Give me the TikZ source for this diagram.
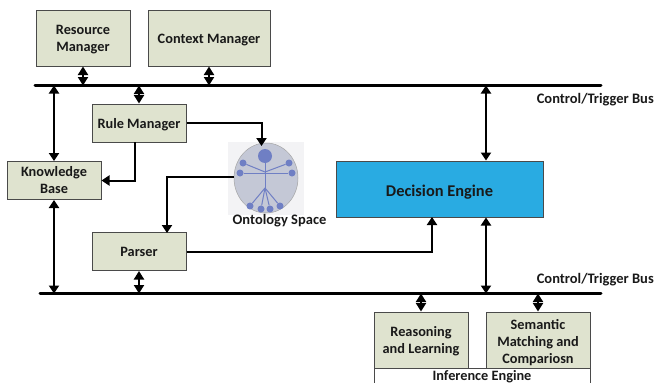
\documentclass[tikz,border=0pt]{standalone}
\usepackage{fontspec}
\setmainfont{Carlito}
\usetikzlibrary{arrows.meta,calc,shapes.geometric}
\definecolor{boxfill}{HTML}{DFE3CF}
\definecolor{boxedge}{HTML}{4A4A4A}
\definecolor{decfill}{HTML}{29ABE2}
\definecolor{ontfill}{HTML}{C4C8D6}
\definecolor{ontblue}{HTML}{6F7FC4}
\definecolor{ontbg}{HTML}{F3F3F5}
\newcommand{\lowr}[1]{\rule{0pt}{#1pt}}
\tikzset{
  every node/.style={font=\bfseries\fontsize{14.3}{17}\selectfont,text=black!90,align=center,inner sep=0pt},
  mgr/.style={draw=boxedge,line width=1pt,fill=boxfill},
  bus/.style={line width=3pt,line cap=round},
  link/.style={line width=2pt,-{Triangle[length=8pt,width=10pt]}},
  dlink/.style={line width=2pt,{Triangle[length=8pt,width=10pt]}-{Triangle[length=8pt,width=10pt]}},
  sdlink/.style={line width=2pt,{Triangle[length=8.5pt,width=10pt]}-{Triangle[length=8.5pt,width=10pt]}},
  limb/.style={draw=ontblue,line width=1pt},
  joint/.style={circle,fill=ontblue,minimum size=7pt},
  lbl/.style={font=\bfseries\fontsize{14.5}{17}\selectfont}
}
\begin{document}
\begin{tikzpicture}[x=1pt,y=-1pt]
\useasboundingbox (0,0) rectangle (654,383);
% bus coordinates
\coordinate (b1l) at (35,85.5);
\coordinate (b1r) at (601,85.5);
\coordinate (b2l) at (40,293.5);
\coordinate (b2r) at (601,293.5);
% boxes
\node[mgr,minimum width=94pt,minimum height=56pt] (res) at (83,38) {\lowr{13}Resource\\Manager};
\node[mgr,minimum width=122pt,minimum height=56pt] (ctx) at (209,38) {\lowr{13}Context Manager};
\node[mgr,minimum width=94pt,minimum height=38pt] (rule) at (139,123) {\lowr{13}Rule Manager};
\node[mgr,minimum width=94pt,minimum height=38pt] (kb) at (54,180.5) {Knowledge\\Base};
\node[mgr,minimum width=94pt,minimum height=38pt] (parser) at (139,251.5) {Parser};
\node[draw=boxedge,line width=1pt,fill=decfill,minimum width=207pt,minimum height=56pt,font=\bfseries\fontsize{16.4}{19}\selectfont] (dec) at (439.5,189) {\lowr{17}Decision Engine};
\node[mgr,minimum width=94pt,minimum height=56pt] (reas) at (421,340) {\lowr{13}Reasoning\\and Learning};
\node[mgr,minimum width=104pt,minimum height=56pt] (sem) at (538,340) {\lowr{16}Semantic\\Matching and\\Compariosn};
\node[draw=boxedge,line width=1pt,fill=white,minimum width=216pt,minimum height=20pt,anchor=north] (inf) at (482,368) {\raisebox{7pt}{Inference Engine}};
% ontology
\fill[ontbg] (228,142) rectangle (304,215);
\node[draw=boxedge!50,line width=0.5pt,fill=ontfill,ellipse,minimum width=64pt,minimum height=70pt] (ont) at (266,178) {};
\node[joint,minimum size=14pt] (head) at (265,156) {};
\node[joint] (h1) at (243,163) {};
\node[joint] (h2) at (240,173) {};
\node[joint] (h3) at (289,163) {};
\node[joint] (h4) at (292,173) {};
\node[joint] (f1) at (250,206) {};
\node[joint] (f2) at (261,209) {};
\node[joint] (f3) at (270,209) {};
\node[joint] (f4) at (280,206) {};
\coordinate (neck) at (265,172);
\coordinate (hip) at (265,188);
\draw[limb] (head) -- (hip);
\draw[limb] (h1) -- (neck) -- (h3);
\draw[limb] (h2) -- (h4);
\foreach \f in {f1,f2,f3,f4} \draw[limb] (hip) -- (\f);
\node[lbl] (ontl) at (279.5,221) {Ontology Space};
% buses
\draw[bus] (b1l) -- (b1r);
\draw[bus] (b2l) -- (b2r);
\node[lbl,anchor=east] (t1) at (654,100) {Control/Trigger Bus};
\node[lbl,anchor=east] (t2) at (654,280) {Control/Trigger Bus};
% connectors
\coordinate (a1) at (83,85.5); \draw[sdlink] (res.south) -- (a1);
\coordinate (a2) at (209,85.5); \draw[sdlink] (ctx.south) -- (a2);
\coordinate (a3) at (139,85.5); \draw[sdlink] (a3) -- (rule.north);
\coordinate (a4) at (54,85.5); \draw[dlink] (a4) -- (kb.north);
\coordinate (a5) at (54,293.5); \draw[dlink] (kb.south) -- (a5);
\coordinate (a6) at (139,293.5); \draw[sdlink] (parser.south) -- (a6);
\coordinate (a7) at (486,85.5); \draw[dlink] (a7) -- (dec.north -| a7);
\coordinate (a8) at (486,293.5); \draw[dlink] (dec.south -| a8) -- (a8);
\coordinate (a9) at (421,293.5); \draw[sdlink] (a9) -- (reas.north);
\coordinate (a10) at (538,293.5); \draw[sdlink] (a10) -- (sem.north);
\coordinate (o1) at (261.5,146);
\draw[link] (rule.east) -| (o1);
\coordinate (k1) at (135,142);
\draw[link] (k1) |- (kb.east);
\coordinate (o2) at (234,177);
\coordinate (p1) at (167,233);
\draw[link] (o2) -| (p1);
\coordinate (d1) at (432,217);
\draw[link] (parser.east) -| (d1);
\end{tikzpicture}
\end{document}
